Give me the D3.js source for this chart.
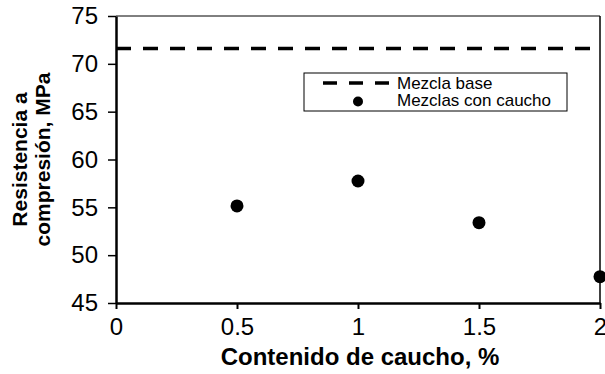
<!DOCTYPE html>
<html>
<head>
<meta charset="utf-8">
<script src="https://cdn.jsdelivr.net/npm/d3@7"></script>
<style>
    body { margin: 0; background: white; }
    text { font-family: "Liberation Sans", Arial, sans-serif; fill: black; }
</style>
</head>
<body>
<svg id="caucho" width="605" height="374"></svg>
<script>
// data
var contenido = [0.5, 1, 1.5, 2]
var resistencia = [55.15, 57.75, 53.4, 47.75]
var mezclaBase = 71.6
var xTicks = [0, 0.5, 1, 1.5, 2]
var yTicks = [45, 50, 55, 60, 65, 70, 75]
var legendLabels = ["Mezcla base", "Mezclas con caucho"]

var dimensions = {
    width: 605,
    height: 374,
    margin: {
        top: 16,
        bottom: 71,
        right: 5,
        left: 116
    }
}

var svg = d3.select("#caucho")

var xScale = d3.scaleLinear()
    .domain([0, 2])
    .range([dimensions.margin.left, dimensions.width - dimensions.margin.right])

var yScale = d3.scaleLinear()
    .domain([45, 75])
    .range([dimensions.height - dimensions.margin.bottom, dimensions.margin.top])

// top and right frame lines
svg.append("line")
    .attr("x1", xScale(0)).attr("x2", xScale(2))
    .attr("y1", yScale(75)).attr("y2", yScale(75))
    .attr("stroke", "black").attr("stroke-width", 1)
svg.append("line")
    .attr("x1", xScale(2)).attr("x2", xScale(2))
    .attr("y1", yScale(75)).attr("y2", yScale(45))
    .attr("stroke", "black").attr("stroke-width", 1.5)

var xAxisGen = d3.axisBottom(xScale)
    .tickValues(xTicks)
    .tickFormat(d3.format("~g"))
    .tickSizeInner(6)
    .tickSizeOuter(0)

var yAxisGen = d3.axisLeft(yScale)
    .tickValues(yTicks)
    .tickSizeInner(8)
    .tickSizeOuter(0)

var xAxis = svg.append("g")
    .attr("class", "x axis")
    .attr("transform", "translate(0," + (dimensions.height - dimensions.margin.bottom) + ")")
    .call(xAxisGen)
xAxis.select(".domain").attr("stroke-width", 2.5)
xAxis.selectAll(".tick line").attr("stroke-width", 2)
xAxis.selectAll("text")
    .style("font-size", "24px")
    .attr("y", 15)
    .attr("dy", "0.71em")

var yAxis = svg.append("g")
    .attr("class", "y axis")
    .attr("transform", "translate(" + dimensions.margin.left + ",0)")
    .call(yAxisGen)
yAxis.select(".domain").attr("stroke-width", 2.5)
yAxis.selectAll(".tick line").attr("stroke-width", 1.5)
yAxis.selectAll("text")
    .style("font-size", "24px")
    .attr("x", -18)

// axis titles
svg.append("text")
    .attr("x", (xScale(0) + xScale(2)) / 2 + 2)
    .attr("y", 365)
    .attr("text-anchor", "middle")
    .style("font-size", "24px")
    .style("font-weight", "bold")
    .text("Contenido de caucho, %")

var yTitle = svg.append("text")
    .attr("transform", "translate(0," + ((yScale(45) + yScale(75)) / 2) + ") rotate(-90)")
    .attr("text-anchor", "middle")
    .style("font-size", "21px")
    .style("font-weight", "bold")
yTitle.append("tspan").attr("x", 0).attr("y", 27).text("Resistencia a")
yTitle.append("tspan").attr("x", 0).attr("y", 50).text("compresión, MPa")

// base mix line
svg.append("line")
    .attr("x1", xScale(0)).attr("x2", xScale(2))
    .attr("y1", yScale(mezclaBase)).attr("y2", yScale(mezclaBase))
    .attr("stroke", "black")
    .attr("stroke-width", 3.5)
    .attr("stroke-dasharray", "15,12")

// rubber mixes
svg.append("g")
    .selectAll("circle")
    .data(contenido)
    .enter()
    .append("circle")
    .attr("cx", d => xScale(d))
    .attr("cy", (d, i) => yScale(resistencia[i]))
    .attr("r", 6.5)
    .attr("fill", "black")

// legend
var legend = svg.append("g").attr("transform", "translate(304,73)")
legend.append("rect")
    .attr("width", 263).attr("height", 38)
    .attr("fill", "white").attr("stroke", "black").attr("stroke-width", 1)
legend.append("line")
    .attr("x1", 19).attr("x2", 91)
    .attr("y1", 10).attr("y2", 10)
    .attr("stroke", "black").attr("stroke-width", 3.5)
    .attr("stroke-dasharray", "14,12")
legend.append("circle")
    .attr("cx", 54).attr("cy", 28.5).attr("r", 5).attr("fill", "black")
legend.selectAll("text.leg")
    .data(legendLabels)
    .enter()
    .append("text")
    .attr("class", "leg")
    .attr("x", 93)
    .attr("y", (d, i) => 16 + i * 17)
    .style("font-size", "17px")
    .text(d => d)
</script>
</body>
</html>
